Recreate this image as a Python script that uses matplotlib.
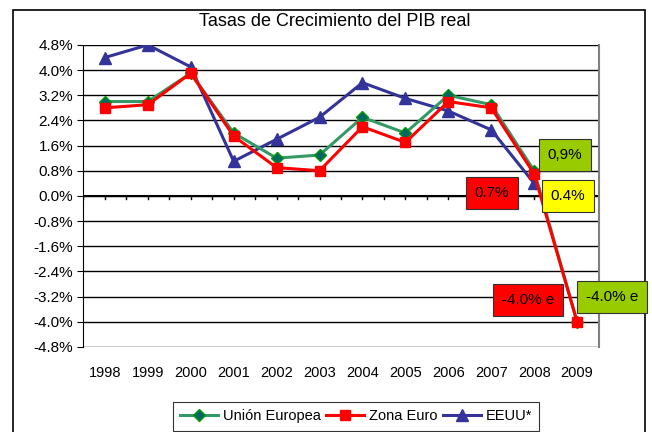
import matplotlib.pyplot as plt
import matplotlib.patches as patches
import numpy as np

plt.rcParams['font.family'] = ['Liberation Sans', 'DejaVu Sans']

years = ['1998', '1999', '2000', '2001', '2002', '2003', '2004', '2005', '2006', '2007', '2008', '2009']
ue = [3.0, 3.0, 3.9, 2.0, 1.2, 1.3, 2.5, 2.0, 3.2, 2.9, 0.8, -4.0]
zona_euro = [2.8, 2.9, 3.9, 1.9, 0.9, 0.8, 2.2, 1.7, 3.0, 2.8, 0.7, -4.0]
eeuu = [4.4, 4.8, 4.1, 1.1, 1.8, 2.5, 3.6, 3.1, 2.7, 2.1, 0.4]
yticks = np.round(np.arange(-4.8, 4.81, 0.8), 1)

fig = plt.figure(figsize=(6.52, 4.32), dpi=100)
ax = fig.add_axes([0.128, 0.197, 0.79, 0.699])

x = np.arange(len(years))
ax.plot(x, ue, color='#339966', lw=2.2, marker='D', ms=6,
        mfc='#006666', mec='#009900', label='Unión Europea', zorder=3)
ax.plot(x, zona_euro, color='#FF0000', lw=2.2, marker='s', ms=6.5,
        mfc='#FF0000', mec='#FF0000', label='Zona Euro', zorder=4)
ax.plot(x[:len(eeuu)], eeuu, color='#333399', lw=2.2, marker='^', ms=8.5,
        mfc='#333399', mec='#333399', label='EEUU*', zorder=2)

ax.set_xlim(-0.5, len(years) - 0.5)
ax.set_ylim(-4.8, 4.8)
ax.set_yticks(yticks)
ax.set_yticklabels(['%.1f%%' % (v + 0.0) for v in yticks], fontsize=11)
for v in yticks:
    ax.axhline(v, color='black', lw=1, zorder=1)

# eje x: ticks en el cero, etiquetas abajo
ax.set_xticks([])
ax.spines['bottom'].set_visible(False)
ax.spines['top'].set_visible(False)
ax.spines['right'].set_color('#808080')
ax.spines['right'].set_linewidth(1.5)
ax.axhline(0, color='black', lw=1.5, zorder=1)
for t in np.arange(-0.5, len(years), 0.5):
    ax.plot([t, t], [0, -0.1], color='black', lw=1, zorder=1)
for i, yr in enumerate(years):
    ax.text(i, -5.4, yr, ha='center', va='top', fontsize=10.5)
ax.tick_params(axis='y', length=4, direction='out')

fig.text(335 / 652, 1 - 22 / 432, 'Tasas de Crecimiento del PIB real', ha='center', va='center', fontsize=13)

def caja(xf, yf, txt, color):
    fig.text(xf, yf, txt, ha='center', va='center', fontsize=11,
             bbox=dict(boxstyle='square,pad=0.6', fc=color, ec='#333333', lw=0.8), zorder=10)

caja(565 / 652, 1 - 155 / 432, '0,9%', '#99CC00')
caja(492 / 652, 1 - 193 / 432, '0.7%', '#FF0000')
caja(568 / 652, 1 - 196 / 432, '0.4%', '#FFFF00')
caja(528 / 652, 1 - 300 / 432, '-4.0% e', '#FF0000')
caja(612 / 652, 1 - 297 / 432, '-4.0% e', '#99CC00')

fig.patches.append(patches.Rectangle((13 / 652, -0.1), 632 / 652, 1.1 - 10 / 432,
                                     transform=fig.transFigure, fill=False,
                                     ec='black', lw=1.2))

leg = fig.legend(loc='upper center', bbox_to_anchor=(356 / 652, 1 - 402 / 432), ncol=3,
                 fontsize=10.5, frameon=True, fancybox=False, handlelength=2.6,
                 columnspacing=0.4, handletextpad=0.3, borderpad=0.5, borderaxespad=0)
leg.get_frame().set_edgecolor('black')
leg.get_frame().set_linewidth(0.8)

fig.savefig('out.png', dpi=100)
